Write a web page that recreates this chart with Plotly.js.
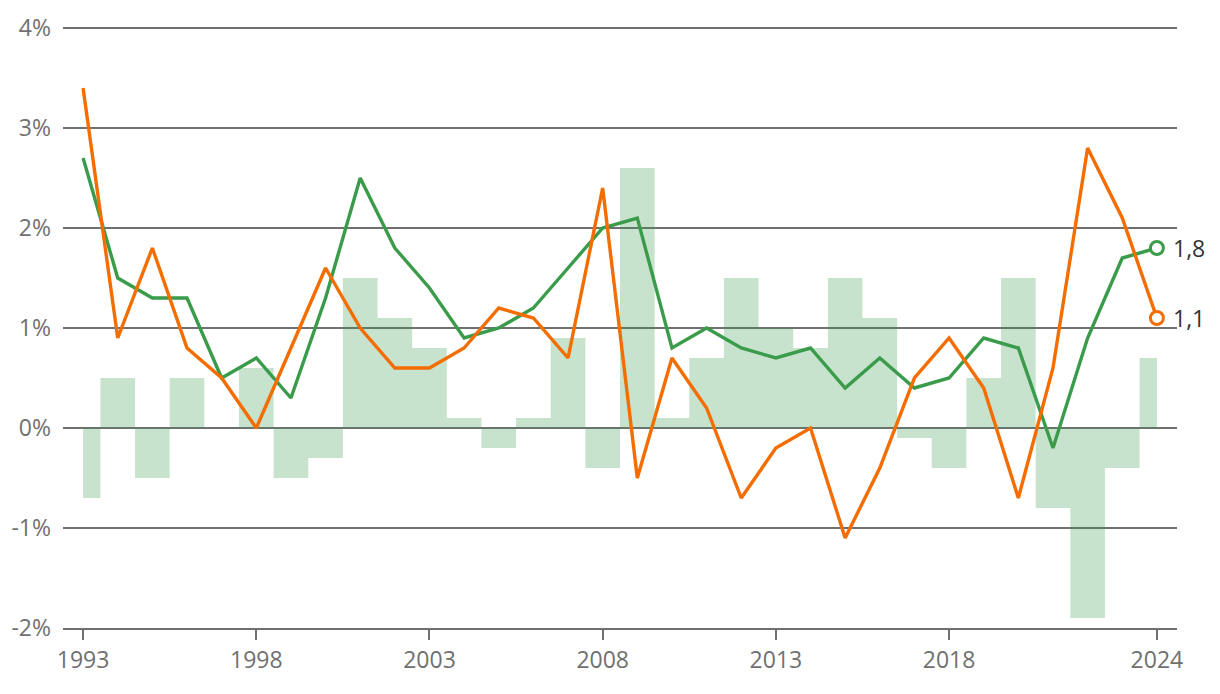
<!DOCTYPE html>
<html>
<head>
<meta charset="utf-8">
<script src="https://cdn.plot.ly/plotly-3.0.1.min.js"></script>
<style>html,body{margin:0;padding:0;background:#fff;}#chart{width:1220px;height:694px;}</style>
</head>
<body>
<div id="chart"></div>
<script>
const years = [1993,1994,1995,1996,1997,1998,1999,2000,2001,2002,2003,2004,2005,2006,2007,2008,2009,2010,2011,2012,2013,2014,2015,2016,2017,2018,2019,2020,2021,2022,2023,2024];
const diffBars = [-0.7,0.5,-0.5,0.5,0.0,0.6,-0.5,-0.3,1.5,1.1,0.8,0.1,-0.2,0.1,0.9,-0.4,2.6,0.1,0.7,1.5,1.0,0.8,1.5,1.1,-0.1,-0.4,0.5,1.5,-0.8,-1.9,-0.4,0.7];
const greenSeries = [2.7,1.5,1.3,1.3,0.5,0.7,0.3,1.3,2.5,1.8,1.4,0.9,1.0,1.2,1.6,2.0,2.1,0.8,1.0,0.8,0.7,0.8,0.4,0.7,0.4,0.5,0.9,0.8,-0.2,0.9,1.7,1.8];
const orangeSeries = [3.4,0.9,1.8,0.8,0.5,0.0,0.8,1.6,1.0,0.6,0.6,0.8,1.2,1.1,0.7,2.4,-0.5,0.7,0.2,-0.7,-0.2,0.0,-1.1,-0.4,0.5,0.9,0.4,-0.7,0.6,2.8,2.1,1.1];
const xTickVals = [1993,1998,2003,2008,2013,2018,2024];
const yTickVals = [-2,-1,0,1,2,3,4];
const yTickText = ['-2%','-1%','0%','1%','2%','3%','4%'];
const endLabels = ['1,8','1,1'];

const GREEN = '#3a9b4b';
const ORANGE = '#f46d00';
const last = years.length - 1;

const traces = [
  {
    x: years, y: diffBars, type: 'scatter', mode: 'lines',
    line: {shape: 'hvh', width: 0, color: 'rgba(0,0,0,0)'},
    fill: 'tozeroy', fillcolor: 'rgba(58,155,75,0.28)',
    hoverinfo: 'skip', showlegend: false
  },
  {
    x: years, y: greenSeries, type: 'scatter', mode: 'lines',
    line: {color: GREEN, width: 3.4}, hoverinfo: 'skip', showlegend: false
  },
  {
    x: years, y: orangeSeries, type: 'scatter', mode: 'lines',
    line: {color: ORANGE, width: 3.4}, hoverinfo: 'skip', showlegend: false
  },
  {
    x: [years[last]], y: [greenSeries[last]], type: 'scatter', mode: 'markers',
    marker: {size: 13, color: '#fff', line: {color: GREEN, width: 3}},
    cliponaxis: false, hoverinfo: 'skip', showlegend: false
  },
  {
    x: [years[last]], y: [orangeSeries[last]], type: 'scatter', mode: 'markers',
    marker: {size: 13, color: '#fff', line: {color: ORANGE, width: 3}},
    cliponaxis: false, hoverinfo: 'skip', showlegend: false
  }
];

const layout = {
  width: 1220, height: 694,
  margin: {l: 63, r: 43, t: 25, b: 66},
  paper_bgcolor: '#fff', plot_bgcolor: '#fff',
  font: {family: '"Open Sans", sans-serif', size: 23, color: '#707070'},
  showlegend: false,
  xaxis: {
    range: [1992.42, 2024.58],
    tickvals: xTickVals, ticktext: xTickVals.map(String),
    showgrid: false, zeroline: false,
    showline: true, linecolor: '#707070', linewidth: 2,
    ticks: 'outside', ticklen: 10, tickwidth: 2, tickcolor: '#707070',
    tickfont: {size: 23, color: '#707070'},
    fixedrange: true
  },
  yaxis: {
    range: [-2, 4.03],
    tickvals: yTickVals, ticktext: yTickText,
    showgrid: true, gridcolor: '#707070', gridwidth: 2,
    zeroline: true, zerolinecolor: '#707070', zerolinewidth: 2,
    showline: false, ticks: '', ticklabelstandoff: 11,
    tickfont: {size: 23, color: '#707070'},
    fixedrange: true
  },
  annotations: [
    {x: years[last], y: greenSeries[last], text: endLabels[0], showarrow: false,
     xanchor: 'left', yanchor: 'middle', xshift: 14, font: {size: 23, color: '#333'}},
    {x: years[last], y: orangeSeries[last], text: endLabels[1], showarrow: false,
     xanchor: 'left', yanchor: 'middle', xshift: 14, font: {size: 23, color: '#333'}}
  ]
};

Plotly.newPlot('chart', traces, layout, {displayModeBar: false, staticPlot: true});
</script>
</body>
</html>
